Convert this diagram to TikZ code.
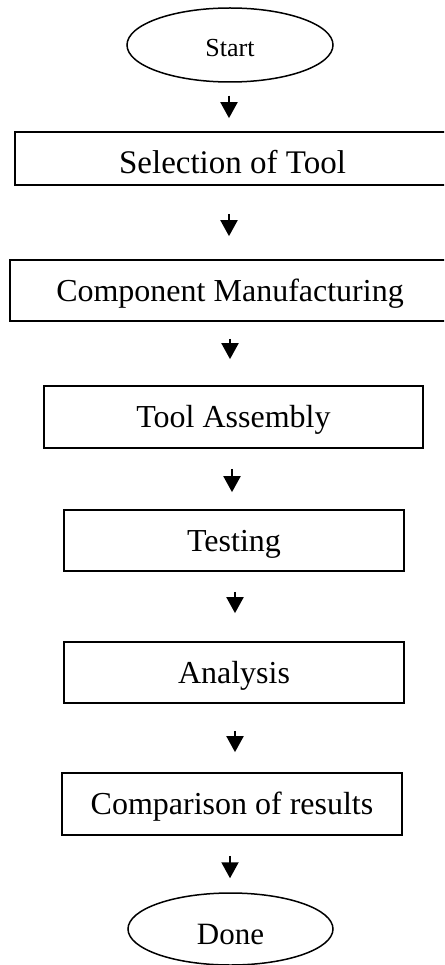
\documentclass[tikz,border=0pt]{standalone}
\usepackage{fontspec}
\setmainfont{Liberation Serif}
\usetikzlibrary{shapes.geometric,arrows.meta}
\tikzset{
  stepbox/.style={draw, line width=1.7pt, rectangle, inner sep=0pt,
    font=\fontsize{32}{36}\selectfont, text height=21pt, text depth=0pt},
  term/.style={draw, line width=1.5pt, ellipse, inner sep=0pt,
    minimum width=206pt, minimum height=74pt},
  arr/.style={line width=2pt, -{Triangle[width=17pt,length=16pt]}}
}
\begin{document}
\begin{tikzpicture}[x=1pt,y=-1pt]
\useasboundingbox (0,0) rectangle (444,965);
\clip (0,0) rectangle (444,965);
\node[term, font=\fontsize{26}{30}\selectfont, text height=24pt, text depth=0pt] (start) at (230,45) {Start};
\node[stepbox, minimum width=435pt, minimum height=53pt, font=\fontsize{33}{36}\selectfont, text height=29.6pt] (sel) at (232.5,158.5) {Selection of Tool};
\node[stepbox, minimum width=440pt, minimum height=61pt] (comp) at (230,290.5) {Component Manufacturing};
\node[stepbox, minimum width=379pt, minimum height=62pt] (asm) at (233.5,417) {Tool Assembly};
\node[stepbox, minimum width=340pt, minimum height=61pt] (test) at (234,540.5) {Testing};
\node[stepbox, minimum width=340pt, minimum height=61pt] (ana) at (234,672.5) {Analysis};
\node[stepbox, minimum width=340pt, minimum height=62pt] (cmp) at (232,804) {Comparison of results};
\node[term, minimum width=205pt, minimum height=72pt, font=\fontsize{31}{34}\selectfont, text height=30pt, text depth=0pt] (done) at (230.5,929) {Done};
\coordinate (x1) at (229,0);
\coordinate (x2) at (229,0);
\coordinate (x3) at (230,0);
\coordinate (x4) at (232,0);
\coordinate (x5) at (235,0);
\coordinate (x6) at (235,0);
\coordinate (x7) at (230,0);
\draw[arr, shorten <=13pt, shorten >=13pt] (start.south -| x1) -- (sel.north -| x1);
\draw[arr, shorten <=28pt, shorten >=23pt] (sel.south -| x2) -- (comp.north -| x2);
\draw[arr, shorten <=17pt, shorten >=26pt] (comp.south -| x3) -- (asm.north -| x3);
\draw[arr, shorten <=20pt, shorten >=17pt] (asm.south -| x4) -- (test.north -| x4);
\draw[arr, shorten <=20pt, shorten >=28pt] (test.south -| x5) -- (ana.north -| x5);
\draw[arr, shorten <=27pt, shorten >=20pt] (ana.south -| x6) -- (cmp.north -| x6);
\draw[arr, shorten <=20pt, shorten >=14pt] (cmp.south -| x7) -- (done.north -| x7);
\end{tikzpicture}
\end{document}
